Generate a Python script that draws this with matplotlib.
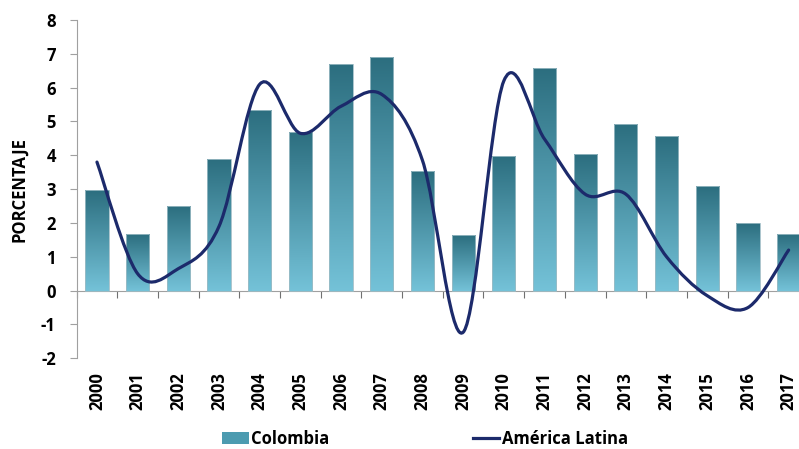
import numpy as np
import matplotlib
matplotlib.use('Agg')
import matplotlib.pyplot as plt
from matplotlib.path import Path
from matplotlib.patches import PathPatch, Patch
from matplotlib.lines import Line2D
from matplotlib.colors import LinearSegmentedColormap

# datos (PIB, variacion anual %)
years = [str(y) for y in range(2000, 2018)]
colombia = [2.98, 1.68, 2.5, 3.9, 5.34, 4.7, 6.7, 6.9, 3.53, 1.65,
            3.97, 6.59, 4.03, 4.93, 4.56, 3.08, 2.0, 1.66]
america_latina = [3.8, 0.5, 0.65, 1.9, 6.1, 4.65, 5.45, 5.8, 3.85, -1.23,
                  6.2, 4.48, 2.85, 2.85, 1.0, -0.15, -0.5, 1.2]
yticks = [-2, -1, 0, 1, 2, 3, 4, 5, 6, 7, 8]

plt.rcParams['font.family'] = ['Open Sans', 'DejaVu Sans']
plt.rcParams['font.weight'] = 'bold'
plt.rcParams['axes.unicode_minus'] = False

fig = plt.figure(figsize=(7.99, 4.49), dpi=100)
ax = fig.add_axes([0.0959, 0.202, 0.9166, 0.7535])

n = len(years)
x = np.arange(n)

# barras con degradado
cmap = LinearSegmentedColormap.from_list('barras', ['#74C2D8', '#2C6E7F'])
grad = np.linspace(0, 1, 256).reshape(-1, 1)
bars = ax.bar(x, colombia, width=0.57, color='none', edgecolor='#9DBCC5',
              linewidth=0.6, zorder=2)
for b in bars:
    x0, y0 = b.get_xy()
    im = ax.imshow(grad, cmap=cmap, origin='lower', aspect='auto', zorder=1,
                   extent=[x0, x0 + b.get_width(), y0, y0 + b.get_height()])
    im.set_clip_path(b)

# linea suavizada (tipo Excel)
y = np.array(america_latina, dtype=float)
xp = np.concatenate([[x[0]], x, [x[-1]]]).astype(float)
yp = np.concatenate([[y[0]], y, [y[-1]]])
verts = [(x[0], y[0])]
codes = [Path.MOVETO]
for i in range(n - 1):
    c1 = (x[i] + (xp[i + 2] - xp[i]) / 6, y[i] + (yp[i + 2] - yp[i]) / 6)
    c2 = (x[i + 1] - (xp[i + 3] - xp[i + 1]) / 6, y[i + 1] - (yp[i + 3] - yp[i + 1]) / 6)
    verts += [c1, c2, (x[i + 1], y[i + 1])]
    codes += [Path.CURVE4] * 3
ax.add_patch(PathPatch(Path(verts, codes), fill=False, edgecolor='#1C2A6B',
                       linewidth=2.3, capstyle='round', zorder=3))

ax.set_xlim(-0.5, n - 0.5)
ax.set_ylim(-2, 8)
ax.set_yticks(yticks)
ax.set_xticks(x)
ax.set_xticklabels(years, rotation=90, fontsize=12, fontweight='bold')
ax.tick_params(axis='x', length=0, pad=10)
ax.tick_params(axis='y', labelsize=12, colors='#A0A0A0', labelcolor='black',
               length=5, width=0.8, pad=10)
for lbl in ax.get_yticklabels():
    lbl.set_fontweight('bold')
for s in ['top', 'right', 'bottom']:
    ax.spines[s].set_visible(False)
ax.spines['left'].set_color('#A0A0A0')
ax.spines['left'].set_linewidth(0.8)
ax.set_ylabel('PORCENTAJE', fontsize=12, fontweight='bold', labelpad=9)

# eje en cero con marcas entre categorias
sec = ax.secondary_xaxis(0.2)
sec.set_xticks(np.arange(n + 1) - 0.5)
sec.set_xticklabels([])
sec.tick_params(axis='x', direction='out', length=5, width=0.8, colors='#707070')
sec.spines['bottom'].set_color('#A0A0A0')
sec.spines['bottom'].set_linewidth(0.8)

handles = [Patch(facecolor='#4C9BB0', edgecolor='none'),
           Line2D([], [], color='#1C2A6B', linewidth=2.3)]
fig.legend(handles, ['Colombia', 'América Latina'], loc='center',
           bbox_to_anchor=(0.532, 0.022), ncol=2, frameon=False,
           prop={'size': 12, 'weight': 'bold'}, handlelength=1.6,
           handletextpad=0.15, columnspacing=8.6)

fig.savefig('out.png', dpi=100)
